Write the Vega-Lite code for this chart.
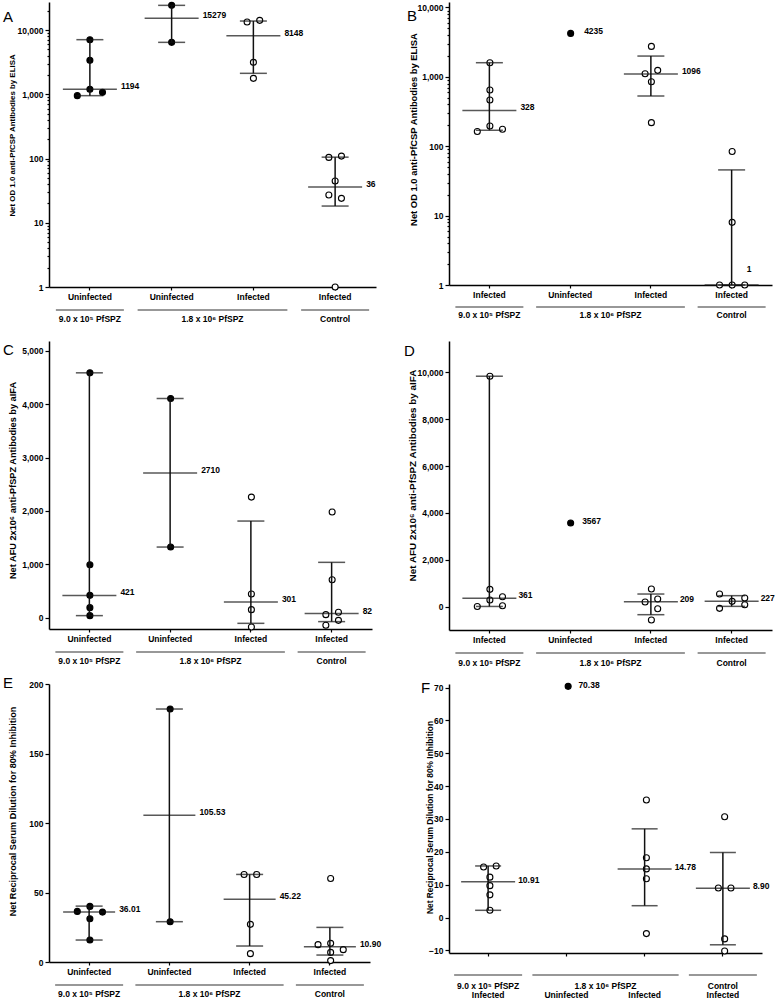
{
"$schema": "https://vega.github.io/schema/vega-lite/v6.json",
"padding": {"left": 3, "top": 0, "right": 0, "bottom": 0},
"background": "white",
"config": {
 "font": "Liberation Sans",
 "view": {"stroke": null},
 "axis": {"domainColor": "black", "domainWidth": 1.5, "tickColor": "black", "tickWidth": 1.2, "labelFont": "Liberation Sans", "labelFontWeight": "bold", "labelFontSize": 8.5, "labelColor": "black", "titleFont": "Liberation Sans", "titleFontWeight": "bold", "titleFontSize": 8, "titleColor": "black", "grid": false, "labelPadding": 2, "labelOverlap": false},
 "axisX": {"tickSize": 3},
 "axisY": {"tickSize": 4}
},
"datasets": {
 "pts": [
  {"panel":"A","grp":0,"v":7075,"slot":0,"status":"Uninfected"},
  {"panel":"A","grp":0,"v":3373,"slot":0,"status":"Uninfected"},
  {"panel":"A","grp":0,"v":1194,"slot":0,"status":"Uninfected"},
  {"panel":"A","grp":0,"v":951,"slot":-2,"status":"Uninfected"},
  {"panel":"A","grp":0,"v":1071,"slot":2,"status":"Uninfected"},
  {"panel":"A","grp":1,"v":24210,"slot":0,"status":"Uninfected"},
  {"panel":"A","grp":1,"v":6428,"slot":0,"status":"Uninfected"},
  {"panel":"A","grp":2,"v":13330,"slot":-1,"status":"Infected"},
  {"panel":"A","grp":2,"v":14140,"slot":1,"status":"Infected"},
  {"panel":"A","grp":2,"v":3141,"slot":0,"status":"Infected"},
  {"panel":"A","grp":2,"v":1770,"slot":0,"status":"Infected"},
  {"panel":"A","grp":3,"v":104,"slot":-1,"status":"Infected"},
  {"panel":"A","grp":3,"v":109,"slot":1,"status":"Infected"},
  {"panel":"A","grp":3,"v":44.7,"slot":0,"status":"Infected"},
  {"panel":"A","grp":3,"v":27,"slot":-1,"status":"Infected"},
  {"panel":"A","grp":3,"v":24,"slot":1,"status":"Infected"},
  {"panel":"A","grp":3,"v":1,"slot":0,"status":"Infected"},
  {"panel":"B","grp":0,"v":1600,"slot":0,"status":"Infected"},
  {"panel":"B","grp":0,"v":647,"slot":0,"status":"Infected"},
  {"panel":"B","grp":0,"v":464,"slot":0,"status":"Infected"},
  {"panel":"B","grp":0,"v":196,"slot":0,"status":"Infected"},
  {"panel":"B","grp":0,"v":163,"slot":-2,"status":"Infected"},
  {"panel":"B","grp":0,"v":176,"slot":2,"status":"Infected"},
  {"panel":"B","grp":1,"v":4235,"slot":0,"status":"Uninfected"},
  {"panel":"B","grp":2,"v":2748,"slot":0,"status":"Infected"},
  {"panel":"B","grp":2,"v":1111,"slot":-1,"status":"Infected"},
  {"panel":"B","grp":2,"v":1242,"slot":1,"status":"Infected"},
  {"panel":"B","grp":2,"v":851,"slot":0,"status":"Infected"},
  {"panel":"B","grp":2,"v":219,"slot":0,"status":"Infected"},
  {"panel":"B","grp":3,"v":84,"slot":0,"status":"Infected"},
  {"panel":"B","grp":3,"v":8,"slot":0,"status":"Infected"},
  {"panel":"B","grp":3,"v":1,"slot":-2,"status":"Infected"},
  {"panel":"B","grp":3,"v":1,"slot":0,"status":"Infected"},
  {"panel":"B","grp":3,"v":1,"slot":2,"status":"Infected"},
  {"panel":"C","grp":0,"v":4583,"slot":0,"status":"Uninfected"},
  {"panel":"C","grp":0,"v":996,"slot":0,"status":"Uninfected"},
  {"panel":"C","grp":0,"v":423,"slot":0,"status":"Uninfected"},
  {"panel":"C","grp":0,"v":193,"slot":0,"status":"Uninfected"},
  {"panel":"C","grp":0,"v":44,"slot":0,"status":"Uninfected"},
  {"panel":"C","grp":1,"v":4103,"slot":0,"status":"Uninfected"},
  {"panel":"C","grp":1,"v":1326,"slot":0,"status":"Uninfected"},
  {"panel":"C","grp":2,"v":2260,"slot":0,"status":"Infected"},
  {"panel":"C","grp":2,"v":448,"slot":0,"status":"Infected"},
  {"panel":"C","grp":2,"v":156,"slot":0,"status":"Infected"},
  {"panel":"C","grp":2,"v":-168,"slot":0,"status":"Infected"},
  {"panel":"C","grp":3,"v":1980,"slot":0,"status":"Infected"},
  {"panel":"C","grp":3,"v":716,"slot":0,"status":"Infected"},
  {"panel":"C","grp":3,"v":62,"slot":-1,"status":"Infected"},
  {"panel":"C","grp":3,"v":106,"slot":1,"status":"Infected"},
  {"panel":"C","grp":3,"v":-137,"slot":-1,"status":"Infected"},
  {"panel":"C","grp":3,"v":-44,"slot":1,"status":"Infected"},
  {"panel":"D","grp":0,"v":9829,"slot":0,"status":"Infected"},
  {"panel":"D","grp":0,"v":740,"slot":0,"status":"Infected"},
  {"panel":"D","grp":0,"v":284,"slot":0,"status":"Infected"},
  {"panel":"D","grp":0,"v":427,"slot":2,"status":"Infected"},
  {"panel":"D","grp":0,"v":10,"slot":-2,"status":"Infected"},
  {"panel":"D","grp":0,"v":43,"slot":2,"status":"Infected"},
  {"panel":"D","grp":1,"v":3567,"slot":0,"status":"Uninfected"},
  {"panel":"D","grp":2,"v":754,"slot":0,"status":"Infected"},
  {"panel":"D","grp":2,"v":199,"slot":-1,"status":"Infected"},
  {"panel":"D","grp":2,"v":327,"slot":1,"status":"Infected"},
  {"panel":"D","grp":2,"v":-85,"slot":1,"status":"Infected"},
  {"panel":"D","grp":2,"v":-569,"slot":0,"status":"Infected"},
  {"panel":"D","grp":3,"v":540,"slot":-2,"status":"Infected"},
  {"panel":"D","grp":3,"v":-71,"slot":-2,"status":"Infected"},
  {"panel":"D","grp":3,"v":228,"slot":0,"status":"Infected"},
  {"panel":"D","grp":3,"v":370,"slot":2,"status":"Infected"},
  {"panel":"D","grp":3,"v":85,"slot":2,"status":"Infected"},
  {"panel":"E","grp":0,"v":40,"slot":0,"status":"Uninfected"},
  {"panel":"E","grp":0,"v":36.4,"slot":-2,"status":"Uninfected"},
  {"panel":"E","grp":0,"v":35.9,"slot":2,"status":"Uninfected"},
  {"panel":"E","grp":0,"v":31.1,"slot":0,"status":"Uninfected"},
  {"panel":"E","grp":0,"v":15.8,"slot":0,"status":"Uninfected"},
  {"panel":"E","grp":1,"v":182,"slot":0,"status":"Uninfected"},
  {"panel":"E","grp":1,"v":29,"slot":0,"status":"Uninfected"},
  {"panel":"E","grp":2,"v":63,"slot":-1,"status":"Infected"},
  {"panel":"E","grp":2,"v":63,"slot":1,"status":"Infected"},
  {"panel":"E","grp":2,"v":27.1,"slot":0,"status":"Infected"},
  {"panel":"E","grp":2,"v":6,"slot":0,"status":"Infected"},
  {"panel":"E","grp":3,"v":60.1,"slot":0,"status":"Infected"},
  {"panel":"E","grp":3,"v":12.5,"slot":-2,"status":"Infected"},
  {"panel":"E","grp":3,"v":13.4,"slot":0,"status":"Infected"},
  {"panel":"E","grp":3,"v":6.9,"slot":0,"status":"Infected"},
  {"panel":"E","grp":3,"v":1,"slot":0,"status":"Infected"},
  {"panel":"E","grp":3,"v":8.9,"slot":2,"status":"Infected"},
  {"panel":"F","grp":0,"v":15.4,"slot":-1,"status":"Infected"},
  {"panel":"F","grp":0,"v":15.7,"slot":1,"status":"Infected"},
  {"panel":"F","grp":0,"v":12.3,"slot":0,"status":"Infected"},
  {"panel":"F","grp":0,"v":9.7,"slot":0,"status":"Infected"},
  {"panel":"F","grp":0,"v":6.9,"slot":0,"status":"Infected"},
  {"panel":"F","grp":0,"v":2.2,"slot":0,"status":"Infected"},
  {"panel":"F","grp":1,"v":70.38,"slot":0,"status":"Uninfected"},
  {"panel":"F","grp":2,"v":35.8,"slot":0,"status":"Infected"},
  {"panel":"F","grp":2,"v":18.2,"slot":0,"status":"Infected"},
  {"panel":"F","grp":2,"v":14.8,"slot":0,"status":"Infected"},
  {"panel":"F","grp":2,"v":11.8,"slot":0,"status":"Infected"},
  {"panel":"F","grp":2,"v":-4.9,"slot":0,"status":"Infected"},
  {"panel":"F","grp":3,"v":30.7,"slot":0,"status":"Infected"},
  {"panel":"F","grp":3,"v":9.0,"slot":-1,"status":"Infected"},
  {"panel":"F","grp":3,"v":9.0,"slot":1,"status":"Infected"},
  {"panel":"F","grp":3,"v":-6.5,"slot":0,"status":"Infected"},
  {"panel":"F","grp":3,"v":-10.2,"slot":0,"status":"Infected"}
 ],
 "sum": [
  {"panel":"A","grp":0,"med":1194,"lo":951,"hi":7075},
  {"panel":"A","grp":1,"med":15279,"lo":6428,"hi":24210},
  {"panel":"A","grp":2,"med":8148,"lo":2118,"hi":13800},
  {"panel":"A","grp":3,"med":36,"lo":18.2,"hi":105},
  {"panel":"B","grp":0,"med":328,"lo":170,"hi":1600},
  {"panel":"B","grp":1,"med":4235},
  {"panel":"B","grp":2,"med":1096,"lo":530,"hi":1995},
  {"panel":"B","grp":3,"med":1,"lo":1,"hi":45.6},
  {"panel":"C","grp":0,"med":421,"lo":44,"hi":4583},
  {"panel":"C","grp":1,"med":2710,"lo":1326,"hi":4103},
  {"panel":"C","grp":2,"med":301,"lo":-100,"hi":1812},
  {"panel":"C","grp":3,"med":82,"lo":-68,"hi":1040},
  {"panel":"D","grp":0,"med":361,"lo":10,"hi":9829},
  {"panel":"D","grp":1,"med":3567},
  {"panel":"D","grp":2,"med":209,"lo":-341,"hi":540},
  {"panel":"D","grp":3,"med":227,"lo":14,"hi":470},
  {"panel":"E","grp":0,"med":36.01,"lo":15.8,"hi":40.2},
  {"panel":"E","grp":1,"med":105.53,"lo":29,"hi":182},
  {"panel":"E","grp":2,"med":45.22,"lo":11.5,"hi":63},
  {"panel":"E","grp":3,"med":10.90,"lo":5.0,"hi":24.9},
  {"panel":"F","grp":0,"med":10.91,"lo":2.2,"hi":15.7},
  {"panel":"F","grp":1,"med":70.38},
  {"panel":"F","grp":2,"med":14.78,"lo":3.6,"hi":27.0},
  {"panel":"F","grp":3,"med":8.90,"lo":-8.3,"hi":19.8}
 ],
 "groups": [
  {"grp":0,"cohort":"9.0 x 10⁵ PfSPZ"},
  {"grp":1,"cohort":"1.8 x 10⁶ PfSPZ"},
  {"grp":2,"cohort":"1.8 x 10⁶ PfSPZ"},
  {"grp":3,"cohort":"Control"}
 ]
},
"columns": 2,
"align": "none",
"bounds": "flush",
"spacing": {"row": 54, "column": 73},
"resolve": {"scale": {"x": "independent", "y": "independent"}},
"concat": [
 {
  "width": 327, "height": 285,
  "resolve": {"scale": {"x": "independent"}},
  "layer": [
   {"data": {"name": "pts"}, "transform": [{"filter": "datum.panel == 'A'"}],
    "mark": {"type": "point", "filled": true, "size": 36, "stroke": "black", "strokeWidth": 1.1, "opacity": 1},
    "encoding": {
     "x": {"field": "grp", "type": "nominal", "scale": {"type": "band", "domain": [0,1,2,3], "paddingInner": 0, "paddingOuter": 0}, "axis": {"orient": "bottom", "title": null, "labelAngle": 0, "labelExpr": "['Uninfected','Uninfected','Infected','Infected'][datum.value]"}},
     "xOffset": {"field": "slot", "type": "quantitative", "scale": {"domain": [-2,2], "range": [28.3,53.5]}},
     "y": {"field": "v", "type": "quantitative", "scale": {"type": "log", "domain": [1,27300], "nice": false},
       "axis": {"title": "Net OD 1.0 anti-PfCSP Antibodies by ELISA", "titleFontSize": 7.9, "titleX": -37, "titleY": 133, "titleBaseline": "middle", "labelOverlap": false,
        "values": [1,2,3,4,5,6,7,8,9,10,20,30,40,50,60,70,80,90,100,200,300,400,500,600,700,800,900,1000,2000,3000,4000,5000,6000,7000,8000,9000,10000,20000],
        "labelExpr": "indexof([1,10,100,1000,10000], datum.value) >= 0 ? format(datum.value, ',') : ''",
        "tickSize": {"condition": {"test": "indexof([1,10,100,1000,10000], datum.value) >= 0", "value": 4}, "value": 2}}},
     "fill": {"field": "status", "type": "nominal", "scale": {"domain": ["Uninfected","Infected"], "range": ["black","white"]}, "legend": null}
    }},
   {"data": {"name": "sum"}, "transform": [{"filter": "datum.panel == 'A' && isValid(datum.lo)"}],
    "mark": {"type": "rule", "color": "#111", "strokeWidth": 1.5},
    "encoding": {"x": {"field": "grp", "type": "nominal", "scale": {"type": "band", "domain": [0,1,2,3], "paddingInner": 0, "paddingOuter": 0}, "axis": null},
     "y": {"field": "lo", "type": "quantitative"}, "y2": {"field": "hi"}}},
   {"data": {"name": "sum"}, "transform": [{"filter": "datum.panel == 'A' && isValid(datum.lo)"}, {"fold": ["lo","hi"], "as": ["end","val"]}],
    "mark": {"type": "tick", "orient": "horizontal", "size": 27, "thickness": 1.5, "color": "#111"},
    "encoding": {"x": {"field": "grp", "type": "nominal", "scale": {"type": "band", "domain": [0,1,2,3], "paddingInner": 0, "paddingOuter": 0}, "axis": null},
     "y": {"field": "val", "type": "quantitative"}}},
   {"data": {"name": "sum"}, "transform": [{"filter": "datum.panel == 'A' && isValid(datum.lo)"}],
    "mark": {"type": "tick", "orient": "horizontal", "size": 54, "thickness": 1.5, "color": "#111"},
    "encoding": {"x": {"field": "grp", "type": "nominal", "scale": {"type": "band", "domain": [0,1,2,3], "paddingInner": 0, "paddingOuter": 0}, "axis": null},
     "y": {"field": "med", "type": "quantitative"}}},
   {"data": {"name": "sum"}, "transform": [{"filter": "datum.panel == 'A'"}],
    "mark": {"type": "text", "align": "left", "baseline": "middle", "dx": 31, "dy": -3, "fontSize": 8.5, "fontWeight": "bold", "color": "black"},
    "encoding": {"x": {"field": "grp", "type": "nominal", "scale": {"type": "band", "domain": [0,1,2,3], "paddingInner": 0, "paddingOuter": 0}, "axis": null},
     "y": {"field": "med", "type": "quantitative"}, "text": {"field": "med", "type": "quantitative", "format": "d"}}},
   {"data": {"name": "groups"}, "transform": [{"aggregate": [{"op": "min", "field": "grp", "as": "first"}, {"op": "max", "field": "grp", "as": "last"}], "groupby": ["cohort"]}],
    "mark": {"type": "rule", "color": "#333", "strokeWidth": 1.2, "xOffset": -34, "x2Offset": 34, "yOffset": 23},
    "encoding": {"x": {"field": "first", "type": "quantitative", "scale": {"domain": [-0.5,3.5], "nice": false, "zero": false}, "axis": null}, "x2": {"field": "last"}, "y": {"value": "height"}}},
   {"data": {"name": "groups"}, "transform": [{"aggregate": [{"op": "mean", "field": "grp", "as": "mid"}], "groupby": ["cohort"]}],
    "mark": {"type": "text", "align": "center", "baseline": "middle", "dy": 32, "fontSize": 8.5, "fontWeight": "bold", "color": "black"},
    "encoding": {"x": {"field": "mid", "type": "quantitative", "scale": {"domain": [-0.5,3.5], "nice": false, "zero": false}, "axis": null}, "y": {"value": "height"}, "text": {"field": "cohort"}}},
   {"data": {"values": [{"letter": "A"}]},
    "mark": {"type": "text", "align": "left", "baseline": "alphabetic", "dx": -46, "dy": 20, "fontSize": 15, "fontWeight": "normal", "color": "black"},
    "encoding": {"x": {"datum": -0.5, "type": "quantitative", "scale": {"domain": [-0.5,3.5], "nice": false, "zero": false}, "axis": null}, "y": {"datum": 27300, "type": "quantitative"}, "text": {"field": "letter"}}}
  ]
 },
 {
  "width": 323, "height": 283,
  "resolve": {"scale": {"x": "independent"}},
  "layer": [
   {"data": {"name": "pts"}, "transform": [{"filter": "datum.panel == 'B'"}],
    "mark": {"type": "point", "filled": true, "size": 36, "stroke": "black", "strokeWidth": 1.1, "opacity": 1},
    "encoding": {
     "x": {"field": "grp", "type": "nominal", "scale": {"type": "band", "domain": [0,1,2,3], "paddingInner": 0, "paddingOuter": 0}, "axis": {"orient": "bottom", "title": null, "labelAngle": 0, "labelExpr": "['Infected','Uninfected','Infected','Infected'][datum.value]"}},
     "xOffset": {"field": "slot", "type": "quantitative", "scale": {"domain": [-2,2], "range": [27.8,53.0]}},
     "y": {"field": "v", "type": "quantitative", "scale": {"type": "log", "domain": [1,12000], "nice": false},
       "axis": {"title": "Net OD 1.0 anti-PfCSP Antibodies by ELISA", "titleFontSize": 9.4, "titleX": -36, "titleY": 127, "titleBaseline": "middle", "labelOverlap": false,
        "values": [1,2,3,4,5,6,7,8,9,10,20,30,40,50,60,70,80,90,100,200,300,400,500,600,700,800,900,1000,2000,3000,4000,5000,6000,7000,8000,9000,10000],
        "labelExpr": "indexof([1,10,100,1000,10000], datum.value) >= 0 ? format(datum.value, ',') : ''",
        "tickSize": {"condition": {"test": "indexof([1,10,100,1000,10000], datum.value) >= 0", "value": 4}, "value": 2}}},
     "fill": {"field": "status", "type": "nominal", "scale": {"domain": ["Uninfected","Infected"], "range": ["black","white"]}, "legend": null}
    }},
   {"data": {"name": "sum"}, "transform": [{"filter": "datum.panel == 'B' && isValid(datum.lo)"}],
    "mark": {"type": "rule", "color": "#111", "strokeWidth": 1.5},
    "encoding": {"x": {"field": "grp", "type": "nominal", "scale": {"type": "band", "domain": [0,1,2,3], "paddingInner": 0, "paddingOuter": 0}, "axis": null},
     "y": {"field": "lo", "type": "quantitative"}, "y2": {"field": "hi"}}},
   {"data": {"name": "sum"}, "transform": [{"filter": "datum.panel == 'B' && isValid(datum.lo)"}, {"fold": ["lo","hi"], "as": ["end","val"]}],
    "mark": {"type": "tick", "orient": "horizontal", "size": 27, "thickness": 1.5, "color": "#111"},
    "encoding": {"x": {"field": "grp", "type": "nominal", "scale": {"type": "band", "domain": [0,1,2,3], "paddingInner": 0, "paddingOuter": 0}, "axis": null},
     "y": {"field": "val", "type": "quantitative"}}},
   {"data": {"name": "sum"}, "transform": [{"filter": "datum.panel == 'B' && isValid(datum.lo)"}],
    "mark": {"type": "tick", "orient": "horizontal", "size": 54, "thickness": 1.5, "color": "#111"},
    "encoding": {"x": {"field": "grp", "type": "nominal", "scale": {"type": "band", "domain": [0,1,2,3], "paddingInner": 0, "paddingOuter": 0}, "axis": null},
     "y": {"field": "med", "type": "quantitative"}}},
   {"data": {"name": "sum"}, "transform": [{"filter": "datum.panel == 'B' && isValid(datum.lo) && datum.grp != 3"}],
    "mark": {"type": "text", "align": "left", "baseline": "middle", "dx": 31, "dy": -3, "fontSize": 8.5, "fontWeight": "bold", "color": "black"},
    "encoding": {"x": {"field": "grp", "type": "nominal", "scale": {"type": "band", "domain": [0,1,2,3], "paddingInner": 0, "paddingOuter": 0}, "axis": null},
     "y": {"field": "med", "type": "quantitative"}, "text": {"field": "med", "type": "quantitative", "format": "d"}}},
   {"data": {"name": "sum"}, "transform": [{"filter": "datum.panel == 'B' && !isValid(datum.lo)"}],
    "mark": {"type": "text", "align": "left", "baseline": "middle", "dx": 14, "dy": -2, "fontSize": 8.5, "fontWeight": "bold", "color": "black"},
    "encoding": {"x": {"field": "grp", "type": "nominal", "scale": {"type": "band", "domain": [0,1,2,3], "paddingInner": 0, "paddingOuter": 0}, "axis": null},
     "y": {"field": "med", "type": "quantitative"}, "text": {"field": "med", "type": "quantitative", "format": "d"}}},
   {"data": {"name": "sum"}, "transform": [{"filter": "datum.panel == 'B' && datum.grp == 3"}],
    "mark": {"type": "text", "align": "left", "baseline": "middle", "dx": 15, "dy": -16, "fontSize": 8.5, "fontWeight": "bold", "color": "black"},
    "encoding": {"x": {"field": "grp", "type": "nominal", "scale": {"type": "band", "domain": [0,1,2,3], "paddingInner": 0, "paddingOuter": 0}, "axis": null},
     "y": {"field": "med", "type": "quantitative"}, "text": {"field": "med", "type": "quantitative", "format": "d"}}},
   {"data": {"name": "groups"}, "transform": [{"aggregate": [{"op": "min", "field": "grp", "as": "first"}, {"op": "max", "field": "grp", "as": "last"}], "groupby": ["cohort"]}],
    "mark": {"type": "rule", "color": "#333", "strokeWidth": 1.2, "xOffset": -34, "x2Offset": 34, "yOffset": 22},
    "encoding": {"x": {"field": "first", "type": "quantitative", "scale": {"domain": [-0.5,3.5], "nice": false, "zero": false}, "axis": null}, "x2": {"field": "last"}, "y": {"value": "height"}}},
   {"data": {"name": "groups"}, "transform": [{"aggregate": [{"op": "mean", "field": "grp", "as": "mid"}], "groupby": ["cohort"]}],
    "mark": {"type": "text", "align": "center", "baseline": "middle", "dy": 30, "fontSize": 8.5, "fontWeight": "bold", "color": "black"},
    "encoding": {"x": {"field": "mid", "type": "quantitative", "scale": {"domain": [-0.5,3.5], "nice": false, "zero": false}, "axis": null}, "y": {"value": "height"}, "text": {"field": "cohort"}}},
   {"data": {"values": [{"letter": "B"}]},
    "mark": {"type": "text", "align": "left", "baseline": "alphabetic", "dx": -42, "dy": 19, "fontSize": 15, "fontWeight": "normal", "color": "black"},
    "encoding": {"x": {"datum": -0.5, "type": "quantitative", "scale": {"domain": [-0.5,3.5], "nice": false, "zero": false}, "axis": null}, "y": {"datum": 12000, "type": "quantitative"}, "text": {"field": "letter"}}}
  ]
 },
 {
  "width": 323, "height": 288,
  "resolve": {"scale": {"x": "independent"}},
  "layer": [
   {"data": {"name": "pts"}, "transform": [{"filter": "datum.panel == 'C'"}],
    "mark": {"type": "point", "filled": true, "size": 36, "stroke": "black", "strokeWidth": 1.1, "opacity": 1},
    "encoding": {
     "x": {"field": "grp", "type": "nominal", "scale": {"type": "band", "domain": [0,1,2,3], "paddingInner": 0, "paddingOuter": 0}, "axis": {"orient": "bottom", "title": null, "labelAngle": 0, "labelExpr": "['Uninfected','Uninfected','Infected','Infected'][datum.value]"}},
     "xOffset": {"field": "slot", "type": "quantitative", "scale": {"domain": [-2,2], "range": [27.8,53.0]}},
     "y": {"field": "v", "type": "quantitative", "scale": {"domain": [-206,5178], "nice": false, "zero": false},
       "axis": {"title": "Net AFU 2x10⁶ anti-PfSPZ Antibodies by aIFA", "titleFontSize": 9.2, "titleX": -37, "titleY": 139, "titleBaseline": "middle", "labelOverlap": false,
        "values": [0,1000,2000,3000,4000,5000], "format": ",d"}},
     "fill": {"field": "status", "type": "nominal", "scale": {"domain": ["Uninfected","Infected"], "range": ["black","white"]}, "legend": null}
    }},
   {"data": {"name": "sum"}, "transform": [{"filter": "datum.panel == 'C' && isValid(datum.lo)"}],
    "mark": {"type": "rule", "color": "#111", "strokeWidth": 1.5},
    "encoding": {"x": {"field": "grp", "type": "nominal", "scale": {"type": "band", "domain": [0,1,2,3], "paddingInner": 0, "paddingOuter": 0}, "axis": null},
     "y": {"field": "lo", "type": "quantitative"}, "y2": {"field": "hi"}}},
   {"data": {"name": "sum"}, "transform": [{"filter": "datum.panel == 'C' && isValid(datum.lo)"}, {"fold": ["lo","hi"], "as": ["end","val"]}],
    "mark": {"type": "tick", "orient": "horizontal", "size": 27, "thickness": 1.5, "color": "#111"},
    "encoding": {"x": {"field": "grp", "type": "nominal", "scale": {"type": "band", "domain": [0,1,2,3], "paddingInner": 0, "paddingOuter": 0}, "axis": null},
     "y": {"field": "val", "type": "quantitative"}}},
   {"data": {"name": "sum"}, "transform": [{"filter": "datum.panel == 'C' && isValid(datum.lo)"}],
    "mark": {"type": "tick", "orient": "horizontal", "size": 54, "thickness": 1.5, "color": "#111"},
    "encoding": {"x": {"field": "grp", "type": "nominal", "scale": {"type": "band", "domain": [0,1,2,3], "paddingInner": 0, "paddingOuter": 0}, "axis": null},
     "y": {"field": "med", "type": "quantitative"}}},
   {"data": {"name": "sum"}, "transform": [{"filter": "datum.panel == 'C'"}],
    "mark": {"type": "text", "align": "left", "baseline": "middle", "dx": 31, "dy": -3, "fontSize": 8.5, "fontWeight": "bold", "color": "black"},
    "encoding": {"x": {"field": "grp", "type": "nominal", "scale": {"type": "band", "domain": [0,1,2,3], "paddingInner": 0, "paddingOuter": 0}, "axis": null},
     "y": {"field": "med", "type": "quantitative"}, "text": {"field": "med", "type": "quantitative", "format": "d"}}},
   {"data": {"name": "groups"}, "transform": [{"aggregate": [{"op": "min", "field": "grp", "as": "first"}, {"op": "max", "field": "grp", "as": "last"}], "groupby": ["cohort"]}],
    "mark": {"type": "rule", "color": "#333", "strokeWidth": 1.2, "xOffset": -34, "x2Offset": 34, "yOffset": 23},
    "encoding": {"x": {"field": "first", "type": "quantitative", "scale": {"domain": [-0.5,3.5], "nice": false, "zero": false}, "axis": null}, "x2": {"field": "last"}, "y": {"value": "height"}}},
   {"data": {"name": "groups"}, "transform": [{"aggregate": [{"op": "mean", "field": "grp", "as": "mid"}], "groupby": ["cohort"]}],
    "mark": {"type": "text", "align": "center", "baseline": "middle", "dy": 32, "fontSize": 8.5, "fontWeight": "bold", "color": "black"},
    "encoding": {"x": {"field": "mid", "type": "quantitative", "scale": {"domain": [-0.5,3.5], "nice": false, "zero": false}, "axis": null}, "y": {"value": "height"}, "text": {"field": "cohort"}}},
   {"data": {"values": [{"letter": "C"}]},
    "mark": {"type": "text", "align": "left", "baseline": "alphabetic", "dx": -46, "dy": 14, "fontSize": 15, "fontWeight": "normal", "color": "black"},
    "encoding": {"x": {"datum": -0.5, "type": "quantitative", "scale": {"domain": [-0.5,3.5], "nice": false, "zero": false}, "axis": null}, "y": {"datum": 5178, "type": "quantitative"}, "text": {"field": "letter"}}}
  ]
 },
 {
  "width": 323, "height": 289,
  "resolve": {"scale": {"x": "independent"}},
  "layer": [
   {"data": {"name": "pts"}, "transform": [{"filter": "datum.panel == 'D'"}],
    "mark": {"type": "point", "filled": true, "size": 36, "stroke": "black", "strokeWidth": 1.1, "opacity": 1},
    "encoding": {
     "x": {"field": "grp", "type": "nominal", "scale": {"type": "band", "domain": [0,1,2,3], "paddingInner": 0, "paddingOuter": 0}, "axis": {"orient": "bottom", "title": null, "labelAngle": 0, "labelExpr": "['Infected','Uninfected','Infected','Infected'][datum.value]"}},
     "xOffset": {"field": "slot", "type": "quantitative", "scale": {"domain": [-2,2], "range": [27.8,53.0]}},
     "y": {"field": "v", "type": "quantitative", "scale": {"domain": [-994,11331], "nice": false, "zero": false},
       "axis": {"title": "Net AFU 2x10⁶ anti-PfSPZ Antibodies by aIFA", "titleFontSize": 9.9, "titleX": -37, "titleY": 134, "titleBaseline": "middle", "labelOverlap": false,
        "values": [0,2000,4000,6000,8000,10000], "format": ",d"}},
     "fill": {"field": "status", "type": "nominal", "scale": {"domain": ["Uninfected","Infected"], "range": ["black","white"]}, "legend": null}
    }},
   {"data": {"name": "sum"}, "transform": [{"filter": "datum.panel == 'D' && isValid(datum.lo)"}],
    "mark": {"type": "rule", "color": "#111", "strokeWidth": 1.5},
    "encoding": {"x": {"field": "grp", "type": "nominal", "scale": {"type": "band", "domain": [0,1,2,3], "paddingInner": 0, "paddingOuter": 0}, "axis": null},
     "y": {"field": "lo", "type": "quantitative"}, "y2": {"field": "hi"}}},
   {"data": {"name": "sum"}, "transform": [{"filter": "datum.panel == 'D' && isValid(datum.lo)"}, {"fold": ["lo","hi"], "as": ["end","val"]}],
    "mark": {"type": "tick", "orient": "horizontal", "size": 27, "thickness": 1.5, "color": "#111"},
    "encoding": {"x": {"field": "grp", "type": "nominal", "scale": {"type": "band", "domain": [0,1,2,3], "paddingInner": 0, "paddingOuter": 0}, "axis": null},
     "y": {"field": "val", "type": "quantitative"}}},
   {"data": {"name": "sum"}, "transform": [{"filter": "datum.panel == 'D' && isValid(datum.lo)"}],
    "mark": {"type": "tick", "orient": "horizontal", "size": 54, "thickness": 1.5, "color": "#111"},
    "encoding": {"x": {"field": "grp", "type": "nominal", "scale": {"type": "band", "domain": [0,1,2,3], "paddingInner": 0, "paddingOuter": 0}, "axis": null},
     "y": {"field": "med", "type": "quantitative"}}},
   {"data": {"name": "sum"}, "transform": [{"filter": "datum.panel == 'D' && isValid(datum.lo)"}],
    "mark": {"type": "text", "align": "left", "baseline": "middle", "dx": 29, "dy": -3, "fontSize": 8.5, "fontWeight": "bold", "color": "black"},
    "encoding": {"x": {"field": "grp", "type": "nominal", "scale": {"type": "band", "domain": [0,1,2,3], "paddingInner": 0, "paddingOuter": 0}, "axis": null},
     "y": {"field": "med", "type": "quantitative"}, "text": {"field": "med", "type": "quantitative", "format": "d"}}},
   {"data": {"name": "sum"}, "transform": [{"filter": "datum.panel == 'D' && !isValid(datum.lo)"}],
    "mark": {"type": "text", "align": "left", "baseline": "middle", "dx": 12, "dy": -2, "fontSize": 8.5, "fontWeight": "bold", "color": "black"},
    "encoding": {"x": {"field": "grp", "type": "nominal", "scale": {"type": "band", "domain": [0,1,2,3], "paddingInner": 0, "paddingOuter": 0}, "axis": null},
     "y": {"field": "med", "type": "quantitative"}, "text": {"field": "med", "type": "quantitative", "format": "d"}}},
   {"data": {"name": "groups"}, "transform": [{"aggregate": [{"op": "min", "field": "grp", "as": "first"}, {"op": "max", "field": "grp", "as": "last"}], "groupby": ["cohort"]}],
    "mark": {"type": "rule", "color": "#333", "strokeWidth": 1.2, "xOffset": -34, "x2Offset": 34, "yOffset": 23},
    "encoding": {"x": {"field": "first", "type": "quantitative", "scale": {"domain": [-0.5,3.5], "nice": false, "zero": false}, "axis": null}, "x2": {"field": "last"}, "y": {"value": "height"}}},
   {"data": {"name": "groups"}, "transform": [{"aggregate": [{"op": "mean", "field": "grp", "as": "mid"}], "groupby": ["cohort"]}],
    "mark": {"type": "text", "align": "center", "baseline": "middle", "dy": 33, "fontSize": 8.5, "fontWeight": "bold", "color": "black"},
    "encoding": {"x": {"field": "mid", "type": "quantitative", "scale": {"domain": [-0.5,3.5], "nice": false, "zero": false}, "axis": null}, "y": {"value": "height"}, "text": {"field": "cohort"}}},
   {"data": {"values": [{"letter": "D"}]},
    "mark": {"type": "text", "align": "left", "baseline": "alphabetic", "dx": -45, "dy": 15, "fontSize": 15, "fontWeight": "normal", "color": "black"},
    "encoding": {"x": {"datum": -0.5, "type": "quantitative", "scale": {"domain": [-0.5,3.5], "nice": false, "zero": false}, "axis": null}, "y": {"datum": 11331, "type": "quantitative"}, "text": {"field": "letter"}}}
  ]
 },
 {
  "width": 321, "height": 278,
  "resolve": {"scale": {"x": "independent"}},
  "layer": [
   {"data": {"name": "pts"}, "transform": [{"filter": "datum.panel == 'E'"}],
    "mark": {"type": "point", "filled": true, "size": 36, "stroke": "black", "strokeWidth": 1.1, "opacity": 1},
    "encoding": {
     "x": {"field": "grp", "type": "nominal", "scale": {"type": "band", "domain": [0,1,2,3], "paddingInner": 0, "paddingOuter": 0}, "axis": {"orient": "bottom", "title": null, "labelAngle": 0, "labelExpr": "['Uninfected','Uninfected','Infected','Infected'][datum.value]"}},
     "xOffset": {"field": "slot", "type": "quantitative", "scale": {"domain": [-2,2], "range": [27.5,52.7]}},
     "y": {"field": "v", "type": "quantitative", "scale": {"domain": [0,200], "nice": false, "zero": false},
       "axis": {"title": "Net Reciprocal Serum Dilution for 80% Inhibition", "titleFontSize": 9.1, "titleX": -37, "titleY": 127, "titleBaseline": "middle", "labelOverlap": false,
        "values": [0,50,100,150,200]}},
     "fill": {"field": "status", "type": "nominal", "scale": {"domain": ["Uninfected","Infected"], "range": ["black","white"]}, "legend": null}
    }},
   {"data": {"name": "sum"}, "transform": [{"filter": "datum.panel == 'E' && isValid(datum.lo)"}],
    "mark": {"type": "rule", "color": "#111", "strokeWidth": 1.5},
    "encoding": {"x": {"field": "grp", "type": "nominal", "scale": {"type": "band", "domain": [0,1,2,3], "paddingInner": 0, "paddingOuter": 0}, "axis": null},
     "y": {"field": "lo", "type": "quantitative"}, "y2": {"field": "hi"}}},
   {"data": {"name": "sum"}, "transform": [{"filter": "datum.panel == 'E' && isValid(datum.lo)"}, {"fold": ["lo","hi"], "as": ["end","val"]}],
    "mark": {"type": "tick", "orient": "horizontal", "size": 27, "thickness": 1.5, "color": "#111"},
    "encoding": {"x": {"field": "grp", "type": "nominal", "scale": {"type": "band", "domain": [0,1,2,3], "paddingInner": 0, "paddingOuter": 0}, "axis": null},
     "y": {"field": "val", "type": "quantitative"}}},
   {"data": {"name": "sum"}, "transform": [{"filter": "datum.panel == 'E' && isValid(datum.lo)"}],
    "mark": {"type": "tick", "orient": "horizontal", "size": 52, "thickness": 1.5, "color": "#111"},
    "encoding": {"x": {"field": "grp", "type": "nominal", "scale": {"type": "band", "domain": [0,1,2,3], "paddingInner": 0, "paddingOuter": 0}, "axis": null},
     "y": {"field": "med", "type": "quantitative"}}},
   {"data": {"name": "sum"}, "transform": [{"filter": "datum.panel == 'E'"}],
    "mark": {"type": "text", "align": "left", "baseline": "middle", "dx": 30, "dy": -3, "fontSize": 8.5, "fontWeight": "bold", "color": "black"},
    "encoding": {"x": {"field": "grp", "type": "nominal", "scale": {"type": "band", "domain": [0,1,2,3], "paddingInner": 0, "paddingOuter": 0}, "axis": null},
     "y": {"field": "med", "type": "quantitative"}, "text": {"field": "med", "type": "quantitative", "format": ".2f"}}},
   {"data": {"name": "groups"}, "transform": [{"aggregate": [{"op": "min", "field": "grp", "as": "first"}, {"op": "max", "field": "grp", "as": "last"}], "groupby": ["cohort"]}],
    "mark": {"type": "rule", "color": "#333", "strokeWidth": 1.2, "xOffset": -34, "x2Offset": 34, "yOffset": 23},
    "encoding": {"x": {"field": "first", "type": "quantitative", "scale": {"domain": [-0.5,3.5], "nice": false, "zero": false}, "axis": null}, "x2": {"field": "last"}, "y": {"value": "height"}}},
   {"data": {"name": "groups"}, "transform": [{"aggregate": [{"op": "mean", "field": "grp", "as": "mid"}], "groupby": ["cohort"]}],
    "mark": {"type": "text", "align": "center", "baseline": "middle", "dy": 32, "fontSize": 8.5, "fontWeight": "bold", "color": "black"},
    "encoding": {"x": {"field": "mid", "type": "quantitative", "scale": {"domain": [-0.5,3.5], "nice": false, "zero": false}, "axis": null}, "y": {"value": "height"}, "text": {"field": "cohort"}}},
   {"data": {"values": [{"letter": "E"}]},
    "mark": {"type": "text", "align": "left", "baseline": "alphabetic", "dx": -46, "dy": 4, "fontSize": 15, "fontWeight": "normal", "color": "black"},
    "encoding": {"x": {"datum": -0.5, "type": "quantitative", "scale": {"domain": [-0.5,3.5], "nice": false, "zero": false}, "axis": null}, "y": {"datum": 200, "type": "quantitative"}, "text": {"field": "letter"}}}
  ]
 },
 {
  "width": 313, "height": 269,
  "resolve": {"scale": {"x": "independent"}},
  "layer": [
   {"data": {"name": "pts"}, "transform": [{"filter": "datum.panel == 'F'"}],
    "mark": {"type": "point", "filled": true, "size": 36, "stroke": "black", "strokeWidth": 1.1, "opacity": 1},
    "encoding": {
     "x": {"field": "grp", "type": "nominal", "scale": {"type": "band", "domain": [0,1,2,3], "paddingInner": 0, "paddingOuter": 0}, "axis": {"orient": "bottom", "title": null, "labelAngle": 0, "labelPadding": 34, "labelExpr": "['Infected','Uninfected','Infected','Infected'][datum.value]"}},
     "xOffset": {"field": "slot", "type": "quantitative", "scale": {"domain": [-2,2], "range": [26.5,51.7]}},
     "y": {"field": "v", "type": "quantitative", "scale": {"domain": [-10.8,71.1], "nice": false, "zero": false},
       "axis": {"title": "Net Reciprocal Serum Dilution for 80% Inhibition", "titleFontSize": 8.4, "titleX": -20, "titleY": 133, "titleBaseline": "middle", "labelOverlap": false, "labelSeparation": -30,
        "tickCount": 9, "format": "d"}},
     "fill": {"field": "status", "type": "nominal", "scale": {"domain": ["Uninfected","Infected"], "range": ["black","white"]}, "legend": null}
    }},
   {"data": {"name": "sum"}, "transform": [{"filter": "datum.panel == 'F' && isValid(datum.lo)"}],
    "mark": {"type": "rule", "color": "#111", "strokeWidth": 1.5},
    "encoding": {"x": {"field": "grp", "type": "nominal", "scale": {"type": "band", "domain": [0,1,2,3], "paddingInner": 0, "paddingOuter": 0}, "axis": null},
     "y": {"field": "lo", "type": "quantitative"}, "y2": {"field": "hi"}}},
   {"data": {"name": "sum"}, "transform": [{"filter": "datum.panel == 'F' && isValid(datum.lo)"}, {"fold": ["lo","hi"], "as": ["end","val"]}],
    "mark": {"type": "tick", "orient": "horizontal", "size": 26, "thickness": 1.5, "color": "#111"},
    "encoding": {"x": {"field": "grp", "type": "nominal", "scale": {"type": "band", "domain": [0,1,2,3], "paddingInner": 0, "paddingOuter": 0}, "axis": null},
     "y": {"field": "val", "type": "quantitative"}}},
   {"data": {"name": "sum"}, "transform": [{"filter": "datum.panel == 'F' && isValid(datum.lo)"}],
    "mark": {"type": "tick", "orient": "horizontal", "size": 54, "thickness": 1.5, "color": "#111"},
    "encoding": {"x": {"field": "grp", "type": "nominal", "scale": {"type": "band", "domain": [0,1,2,3], "paddingInner": 0, "paddingOuter": 0}, "axis": null},
     "y": {"field": "med", "type": "quantitative"}}},
   {"data": {"name": "sum"}, "transform": [{"filter": "datum.panel == 'F' && isValid(datum.lo)"}],
    "mark": {"type": "text", "align": "left", "baseline": "middle", "dx": 30, "dy": -2, "fontSize": 8.5, "fontWeight": "bold", "color": "black"},
    "encoding": {"x": {"field": "grp", "type": "nominal", "scale": {"type": "band", "domain": [0,1,2,3], "paddingInner": 0, "paddingOuter": 0}, "axis": null},
     "y": {"field": "med", "type": "quantitative"}, "text": {"field": "med", "type": "quantitative", "format": ".2f"}}},
   {"data": {"name": "sum"}, "transform": [{"filter": "datum.panel == 'F' && !isValid(datum.lo)"}],
    "mark": {"type": "text", "align": "left", "baseline": "middle", "dx": 12, "dy": -1, "fontSize": 8.5, "fontWeight": "bold", "color": "black"},
    "encoding": {"x": {"field": "grp", "type": "nominal", "scale": {"type": "band", "domain": [0,1,2,3], "paddingInner": 0, "paddingOuter": 0}, "axis": null},
     "y": {"field": "med", "type": "quantitative"}, "text": {"field": "med", "type": "quantitative", "format": ".2f"}}},
   {"data": {"name": "groups"}, "transform": [{"aggregate": [{"op": "min", "field": "grp", "as": "first"}, {"op": "max", "field": "grp", "as": "last"}], "groupby": ["cohort"]}],
    "mark": {"type": "rule", "color": "#333", "strokeWidth": 1.2, "xOffset": -34, "x2Offset": 34, "yOffset": 22},
    "encoding": {"x": {"field": "first", "type": "quantitative", "scale": {"domain": [-0.5,3.5], "nice": false, "zero": false}, "axis": null}, "x2": {"field": "last"}, "y": {"value": "height"}}},
   {"data": {"name": "groups"}, "transform": [{"aggregate": [{"op": "mean", "field": "grp", "as": "mid"}], "groupby": ["cohort"]}],
    "mark": {"type": "text", "align": "center", "baseline": "middle", "dy": 33, "fontSize": 8.5, "fontWeight": "bold", "color": "black"},
    "encoding": {"x": {"field": "mid", "type": "quantitative", "scale": {"domain": [-0.5,3.5], "nice": false, "zero": false}, "axis": null}, "y": {"value": "height"}, "text": {"field": "cohort"}}},
   {"data": {"values": [{"letter": "F"}]},
    "mark": {"type": "text", "align": "left", "baseline": "alphabetic", "dx": -28, "dy": 9, "fontSize": 15, "fontWeight": "normal", "color": "black"},
    "encoding": {"x": {"datum": -0.5, "type": "quantitative", "scale": {"domain": [-0.5,3.5], "nice": false, "zero": false}, "axis": null}, "y": {"datum": 71.1, "type": "quantitative"}, "text": {"field": "letter"}}}
  ]
 }
]
}
